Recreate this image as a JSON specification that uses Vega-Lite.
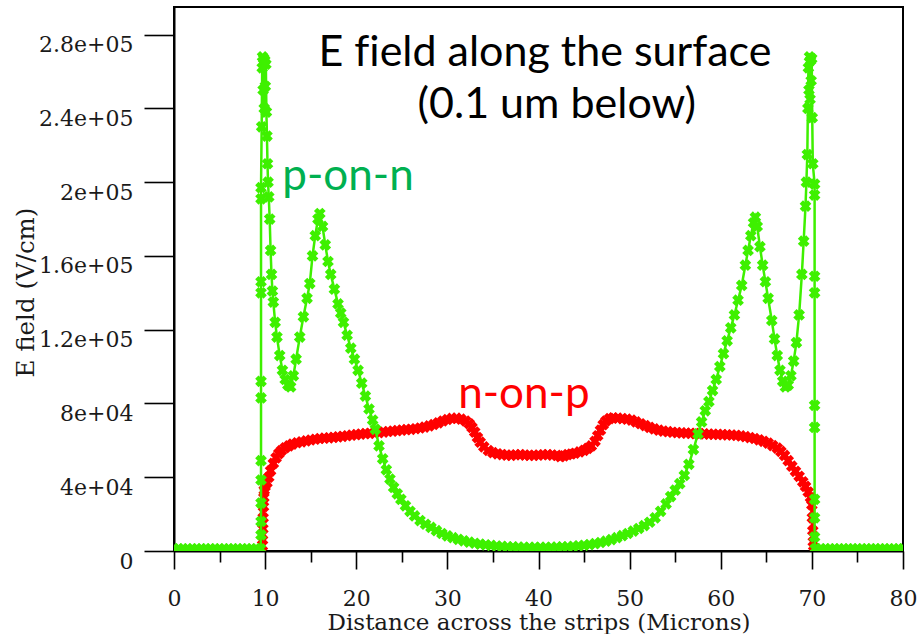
{
  "$schema": "https://vega.github.io/schema/vega-lite/v6.json",
  "width": 729,
  "height": 544,
  "autosize": {"type": "none"},
  "padding": {"left": 174, "top": 7, "right": 14, "bottom": 83},
  "background": "white",
  "config": {
    "view": {"stroke": "black", "strokeWidth": 2},
    "axis": {
      "grid": false,
      "domainColor": "black",
      "domainWidth": 2,
      "tickColor": "black",
      "tickWidth": 1.6,
      "labelFont": "DejaVu Serif",
      "labelFontSize": 22,
      "labelColor": "#1a1a1a",
      "titleFont": "DejaVu Serif",
      "titleFontSize": 23,
      "titleFontWeight": "normal",
      "titleColor": "#1a1a1a",
      "labelOverlap": false,
      "labelFlush": false,
      "labelBound": false
    }
  },
  "datasets": {
    "curves": [
      {"series":"n-on-p","i":0,"x":9.7,"E":0},
      {"series":"n-on-p","i":1,"x":9.72,"E":6000},
      {"series":"n-on-p","i":2,"x":9.75,"E":12000},
      {"series":"n-on-p","i":3,"x":9.78,"E":18000},
      {"series":"n-on-p","i":4,"x":9.82,"E":24000},
      {"series":"n-on-p","i":5,"x":9.86,"E":29000},
      {"series":"n-on-p","i":6,"x":9.9,"E":33000},
      {"series":"n-on-p","i":7,"x":10.0,"E":35000},
      {"series":"n-on-p","i":8,"x":10.2,"E":37000},
      {"series":"n-on-p","i":9,"x":10.4,"E":40000},
      {"series":"n-on-p","i":10,"x":10.6,"E":43500},
      {"series":"n-on-p","i":11,"x":10.9,"E":47500},
      {"series":"n-on-p","i":12,"x":11.2,"E":50500},
      {"series":"n-on-p","i":13,"x":11.5,"E":52800},
      {"series":"n-on-p","i":14,"x":11.8,"E":54500},
      {"series":"n-on-p","i":15,"x":12.2,"E":56000},
      {"series":"n-on-p","i":16,"x":12.6,"E":57000},
      {"series":"n-on-p","i":17,"x":13.0,"E":58000},
      {"series":"n-on-p","i":18,"x":13.5,"E":58700},
      {"series":"n-on-p","i":19,"x":14.0,"E":59200},
      {"series":"n-on-p","i":20,"x":14.5,"E":59700},
      {"series":"n-on-p","i":21,"x":15.0,"E":60200},
      {"series":"n-on-p","i":22,"x":15.5,"E":60600},
      {"series":"n-on-p","i":23,"x":16.0,"E":61000},
      {"series":"n-on-p","i":24,"x":16.5,"E":61200},
      {"series":"n-on-p","i":25,"x":17.0,"E":61400},
      {"series":"n-on-p","i":26,"x":17.5,"E":61600},
      {"series":"n-on-p","i":27,"x":18.0,"E":61900},
      {"series":"n-on-p","i":28,"x":18.5,"E":62200},
      {"series":"n-on-p","i":29,"x":19.0,"E":62500},
      {"series":"n-on-p","i":30,"x":19.5,"E":62800},
      {"series":"n-on-p","i":31,"x":20.0,"E":63100},
      {"series":"n-on-p","i":32,"x":20.5,"E":63400},
      {"series":"n-on-p","i":33,"x":21.0,"E":63600},
      {"series":"n-on-p","i":34,"x":21.5,"E":63800},
      {"series":"n-on-p","i":35,"x":22.0,"E":64000},
      {"series":"n-on-p","i":36,"x":22.5,"E":64200},
      {"series":"n-on-p","i":37,"x":23.0,"E":64500},
      {"series":"n-on-p","i":38,"x":23.5,"E":64800},
      {"series":"n-on-p","i":39,"x":24.0,"E":65000},
      {"series":"n-on-p","i":40,"x":24.5,"E":65300},
      {"series":"n-on-p","i":41,"x":25.0,"E":65500},
      {"series":"n-on-p","i":42,"x":25.5,"E":65800},
      {"series":"n-on-p","i":43,"x":26.0,"E":66000},
      {"series":"n-on-p","i":44,"x":26.5,"E":66300},
      {"series":"n-on-p","i":45,"x":27.0,"E":66700},
      {"series":"n-on-p","i":46,"x":27.5,"E":67200},
      {"series":"n-on-p","i":47,"x":28.0,"E":67800},
      {"series":"n-on-p","i":48,"x":28.5,"E":68600},
      {"series":"n-on-p","i":49,"x":29.0,"E":69500},
      {"series":"n-on-p","i":50,"x":29.5,"E":70500},
      {"series":"n-on-p","i":51,"x":30.0,"E":71300},
      {"series":"n-on-p","i":52,"x":30.5,"E":71900},
      {"series":"n-on-p","i":53,"x":31.0,"E":72000},
      {"series":"n-on-p","i":54,"x":31.5,"E":71500},
      {"series":"n-on-p","i":55,"x":32.0,"E":70500},
      {"series":"n-on-p","i":56,"x":32.4,"E":69000},
      {"series":"n-on-p","i":57,"x":32.7,"E":67000},
      {"series":"n-on-p","i":58,"x":33.0,"E":64500},
      {"series":"n-on-p","i":59,"x":33.3,"E":61500},
      {"series":"n-on-p","i":60,"x":33.6,"E":59000},
      {"series":"n-on-p","i":61,"x":34.0,"E":56500},
      {"series":"n-on-p","i":62,"x":34.5,"E":54500},
      {"series":"n-on-p","i":63,"x":35.0,"E":53300},
      {"series":"n-on-p","i":64,"x":35.5,"E":52700},
      {"series":"n-on-p","i":65,"x":36.0,"E":52300},
      {"series":"n-on-p","i":66,"x":36.5,"E":52000},
      {"series":"n-on-p","i":67,"x":37.0,"E":51800},
      {"series":"n-on-p","i":68,"x":37.5,"E":52200},
      {"series":"n-on-p","i":69,"x":38.0,"E":52300},
      {"series":"n-on-p","i":70,"x":38.5,"E":52000},
      {"series":"n-on-p","i":71,"x":39.0,"E":51900},
      {"series":"n-on-p","i":72,"x":39.5,"E":51900},
      {"series":"n-on-p","i":73,"x":40.0,"E":52000},
      {"series":"n-on-p","i":74,"x":40.5,"E":52200},
      {"series":"n-on-p","i":75,"x":41.0,"E":52300},
      {"series":"n-on-p","i":76,"x":41.5,"E":52000},
      {"series":"n-on-p","i":77,"x":42.0,"E":51800},
      {"series":"n-on-p","i":78,"x":42.4,"E":51200},
      {"series":"n-on-p","i":79,"x":42.8,"E":51600},
      {"series":"n-on-p","i":80,"x":43.2,"E":52300},
      {"series":"n-on-p","i":81,"x":43.6,"E":52600},
      {"series":"n-on-p","i":82,"x":44.0,"E":53000},
      {"series":"n-on-p","i":83,"x":44.5,"E":53700},
      {"series":"n-on-p","i":84,"x":45.0,"E":54600},
      {"series":"n-on-p","i":85,"x":45.4,"E":55600},
      {"series":"n-on-p","i":86,"x":45.8,"E":57000},
      {"series":"n-on-p","i":87,"x":46.2,"E":59500},
      {"series":"n-on-p","i":88,"x":46.5,"E":62500},
      {"series":"n-on-p","i":89,"x":46.8,"E":65500},
      {"series":"n-on-p","i":90,"x":47.1,"E":68500},
      {"series":"n-on-p","i":91,"x":47.4,"E":70500},
      {"series":"n-on-p","i":92,"x":47.8,"E":71800},
      {"series":"n-on-p","i":93,"x":48.2,"E":72200},
      {"series":"n-on-p","i":94,"x":48.7,"E":72000},
      {"series":"n-on-p","i":95,"x":49.2,"E":71800},
      {"series":"n-on-p","i":96,"x":49.7,"E":71500},
      {"series":"n-on-p","i":97,"x":50.2,"E":71000},
      {"series":"n-on-p","i":98,"x":50.7,"E":70000},
      {"series":"n-on-p","i":99,"x":51.2,"E":69000},
      {"series":"n-on-p","i":100,"x":51.7,"E":68000},
      {"series":"n-on-p","i":101,"x":52.2,"E":67000},
      {"series":"n-on-p","i":102,"x":52.7,"E":66200},
      {"series":"n-on-p","i":103,"x":53.2,"E":65500},
      {"series":"n-on-p","i":104,"x":53.7,"E":65000},
      {"series":"n-on-p","i":105,"x":54.2,"E":64700},
      {"series":"n-on-p","i":106,"x":54.7,"E":64400},
      {"series":"n-on-p","i":107,"x":55.2,"E":64200},
      {"series":"n-on-p","i":108,"x":55.7,"E":64000},
      {"series":"n-on-p","i":109,"x":56.2,"E":63900},
      {"series":"n-on-p","i":110,"x":56.7,"E":63800},
      {"series":"n-on-p","i":111,"x":57.2,"E":63700},
      {"series":"n-on-p","i":112,"x":57.7,"E":63600},
      {"series":"n-on-p","i":113,"x":58.2,"E":63500},
      {"series":"n-on-p","i":114,"x":58.7,"E":63400},
      {"series":"n-on-p","i":115,"x":59.2,"E":63300},
      {"series":"n-on-p","i":116,"x":59.7,"E":63200},
      {"series":"n-on-p","i":117,"x":60.2,"E":63100},
      {"series":"n-on-p","i":118,"x":60.7,"E":63000},
      {"series":"n-on-p","i":119,"x":61.2,"E":62900},
      {"series":"n-on-p","i":120,"x":61.7,"E":62700},
      {"series":"n-on-p","i":121,"x":62.2,"E":62400},
      {"series":"n-on-p","i":122,"x":62.7,"E":62000},
      {"series":"n-on-p","i":123,"x":63.2,"E":61500},
      {"series":"n-on-p","i":124,"x":63.7,"E":61000},
      {"series":"n-on-p","i":125,"x":64.2,"E":60300},
      {"series":"n-on-p","i":126,"x":64.7,"E":59500},
      {"series":"n-on-p","i":127,"x":65.2,"E":58500},
      {"series":"n-on-p","i":128,"x":65.7,"E":57200},
      {"series":"n-on-p","i":129,"x":66.2,"E":55800},
      {"series":"n-on-p","i":130,"x":66.6,"E":54000},
      {"series":"n-on-p","i":131,"x":67.0,"E":51800},
      {"series":"n-on-p","i":132,"x":67.4,"E":49000},
      {"series":"n-on-p","i":133,"x":67.8,"E":46000},
      {"series":"n-on-p","i":134,"x":68.2,"E":43200},
      {"series":"n-on-p","i":135,"x":68.6,"E":40500},
      {"series":"n-on-p","i":136,"x":69.0,"E":37500},
      {"series":"n-on-p","i":137,"x":69.3,"E":35000},
      {"series":"n-on-p","i":138,"x":69.6,"E":32000},
      {"series":"n-on-p","i":139,"x":69.85,"E":29000},
      {"series":"n-on-p","i":140,"x":70.0,"E":25000},
      {"series":"n-on-p","i":141,"x":70.05,"E":18000},
      {"series":"n-on-p","i":142,"x":70.1,"E":11000},
      {"series":"n-on-p","i":143,"x":70.15,"E":5000},
      {"series":"n-on-p","i":144,"x":70.2,"E":0},

      {"series":"p-on-n","i":0,"x":0,"E":1200},
      {"series":"p-on-n","i":1,"x":0.5,"E":1200},
      {"series":"p-on-n","i":2,"x":1,"E":1200},
      {"series":"p-on-n","i":3,"x":1.5,"E":1200},
      {"series":"p-on-n","i":4,"x":2,"E":1200},
      {"series":"p-on-n","i":5,"x":2.5,"E":1200},
      {"series":"p-on-n","i":6,"x":3,"E":1200},
      {"series":"p-on-n","i":7,"x":3.5,"E":1200},
      {"series":"p-on-n","i":8,"x":4,"E":1200},
      {"series":"p-on-n","i":9,"x":4.5,"E":1200},
      {"series":"p-on-n","i":10,"x":5,"E":1200},
      {"series":"p-on-n","i":11,"x":5.5,"E":1200},
      {"series":"p-on-n","i":12,"x":6,"E":1200},
      {"series":"p-on-n","i":13,"x":6.5,"E":1200},
      {"series":"p-on-n","i":14,"x":7,"E":1200},
      {"series":"p-on-n","i":15,"x":7.5,"E":1200},
      {"series":"p-on-n","i":16,"x":8,"E":1200},
      {"series":"p-on-n","i":17,"x":8.5,"E":1200},
      {"series":"p-on-n","i":18,"x":9,"E":1200},
      {"series":"p-on-n","i":19,"x":9.5,"E":1200},
      {"series":"p-on-n","i":20,"x":9.55,"E":8700},
      {"series":"p-on-n","i":21,"x":9.55,"E":16000},
      {"series":"p-on-n","i":22,"x":9.55,"E":26000},
      {"series":"p-on-n","i":23,"x":9.55,"E":38500},
      {"series":"p-on-n","i":24,"x":9.55,"E":49000},
      {"series":"p-on-n","i":25,"x":9.55,"E":83000},
      {"series":"p-on-n","i":26,"x":9.55,"E":92000},
      {"series":"p-on-n","i":27,"x":9.55,"E":140000},
      {"series":"p-on-n","i":28,"x":9.55,"E":146000},
      {"series":"p-on-n","i":29,"x":9.55,"E":191000},
      {"series":"p-on-n","i":30,"x":9.55,"E":197000},
      {"series":"p-on-n","i":31,"x":9.62,"E":230000},
      {"series":"p-on-n","i":32,"x":9.68,"E":262000},
      {"series":"p-on-n","i":33,"x":9.72,"E":268000},
      {"series":"p-on-n","i":34,"x":9.78,"E":250000},
      {"series":"p-on-n","i":35,"x":9.84,"E":267000},
      {"series":"p-on-n","i":36,"x":9.9,"E":240000},
      {"series":"p-on-n","i":37,"x":9.96,"E":266000},
      {"series":"p-on-n","i":38,"x":10.02,"E":252000},
      {"series":"p-on-n","i":39,"x":10.08,"E":264000},
      {"series":"p-on-n","i":40,"x":10.14,"E":238000},
      {"series":"p-on-n","i":41,"x":10.2,"E":225000},
      {"series":"p-on-n","i":42,"x":10.26,"E":210000},
      {"series":"p-on-n","i":43,"x":10.32,"E":200000},
      {"series":"p-on-n","i":44,"x":10.4,"E":192000},
      {"series":"p-on-n","i":45,"x":10.5,"E":180000},
      {"series":"p-on-n","i":46,"x":10.6,"E":163000},
      {"series":"p-on-n","i":47,"x":10.7,"E":150000},
      {"series":"p-on-n","i":48,"x":10.8,"E":141000},
      {"series":"p-on-n","i":49,"x":10.9,"E":135000},
      {"series":"p-on-n","i":50,"x":11.1,"E":124000},
      {"series":"p-on-n","i":51,"x":11.3,"E":116000},
      {"series":"p-on-n","i":52,"x":11.6,"E":106000},
      {"series":"p-on-n","i":53,"x":11.9,"E":98000},
      {"series":"p-on-n","i":54,"x":12.2,"E":93000},
      {"series":"p-on-n","i":55,"x":12.5,"E":90000},
      {"series":"p-on-n","i":56,"x":12.8,"E":89000},
      {"series":"p-on-n","i":57,"x":13.1,"E":95000},
      {"series":"p-on-n","i":58,"x":13.4,"E":104000},
      {"series":"p-on-n","i":59,"x":13.8,"E":116000},
      {"series":"p-on-n","i":60,"x":14.2,"E":127000},
      {"series":"p-on-n","i":61,"x":14.6,"E":137000},
      {"series":"p-on-n","i":62,"x":14.9,"E":145000},
      {"series":"p-on-n","i":63,"x":15.2,"E":160000},
      {"series":"p-on-n","i":64,"x":15.5,"E":171000},
      {"series":"p-on-n","i":65,"x":15.8,"E":180000},
      {"series":"p-on-n","i":66,"x":16.0,"E":183000},
      {"series":"p-on-n","i":67,"x":16.3,"E":176000},
      {"series":"p-on-n","i":68,"x":16.6,"E":166000},
      {"series":"p-on-n","i":69,"x":16.9,"E":157000},
      {"series":"p-on-n","i":70,"x":17.2,"E":150000},
      {"series":"p-on-n","i":71,"x":17.6,"E":142000},
      {"series":"p-on-n","i":72,"x":18.0,"E":134000},
      {"series":"p-on-n","i":73,"x":18.3,"E":129000},
      {"series":"p-on-n","i":74,"x":18.6,"E":124000},
      {"series":"p-on-n","i":75,"x":19.0,"E":117000},
      {"series":"p-on-n","i":76,"x":19.4,"E":110000},
      {"series":"p-on-n","i":77,"x":19.8,"E":104000},
      {"series":"p-on-n","i":78,"x":20.2,"E":98000},
      {"series":"p-on-n","i":79,"x":20.6,"E":91000},
      {"series":"p-on-n","i":80,"x":21.0,"E":84000},
      {"series":"p-on-n","i":81,"x":21.4,"E":77000},
      {"series":"p-on-n","i":82,"x":21.8,"E":71000},
      {"series":"p-on-n","i":83,"x":22.1,"E":66000},
      {"series":"p-on-n","i":84,"x":22.5,"E":57000},
      {"series":"p-on-n","i":85,"x":22.9,"E":50000},
      {"series":"p-on-n","i":86,"x":23.3,"E":44000},
      {"series":"p-on-n","i":87,"x":23.7,"E":39000},
      {"series":"p-on-n","i":88,"x":24.1,"E":34500},
      {"series":"p-on-n","i":89,"x":24.5,"E":31000},
      {"series":"p-on-n","i":90,"x":24.9,"E":28000},
      {"series":"p-on-n","i":91,"x":25.4,"E":24500},
      {"series":"p-on-n","i":92,"x":25.9,"E":21500},
      {"series":"p-on-n","i":93,"x":26.4,"E":19000},
      {"series":"p-on-n","i":94,"x":27.0,"E":16500},
      {"series":"p-on-n","i":95,"x":27.6,"E":14500},
      {"series":"p-on-n","i":96,"x":28.2,"E":12800},
      {"series":"p-on-n","i":97,"x":28.8,"E":11000},
      {"series":"p-on-n","i":98,"x":29.4,"E":9500},
      {"series":"p-on-n","i":99,"x":30.0,"E":8200},
      {"series":"p-on-n","i":100,"x":30.6,"E":7200},
      {"series":"p-on-n","i":101,"x":31.2,"E":6300},
      {"series":"p-on-n","i":102,"x":31.8,"E":5500},
      {"series":"p-on-n","i":103,"x":32.4,"E":4800},
      {"series":"p-on-n","i":104,"x":33.0,"E":4200},
      {"series":"p-on-n","i":105,"x":33.6,"E":3700},
      {"series":"p-on-n","i":106,"x":34.2,"E":3300},
      {"series":"p-on-n","i":107,"x":34.8,"E":3000},
      {"series":"p-on-n","i":108,"x":35.4,"E":2700},
      {"series":"p-on-n","i":109,"x":36.0,"E":2500},
      {"series":"p-on-n","i":110,"x":36.6,"E":2300},
      {"series":"p-on-n","i":111,"x":37.2,"E":2200},
      {"series":"p-on-n","i":112,"x":37.8,"E":2100},
      {"series":"p-on-n","i":113,"x":38.4,"E":2000},
      {"series":"p-on-n","i":114,"x":39.0,"E":2000},
      {"series":"p-on-n","i":115,"x":39.6,"E":2000},
      {"series":"p-on-n","i":116,"x":40.2,"E":2000},
      {"series":"p-on-n","i":117,"x":40.8,"E":2000},
      {"series":"p-on-n","i":118,"x":41.4,"E":2000},
      {"series":"p-on-n","i":119,"x":42.0,"E":2100},
      {"series":"p-on-n","i":120,"x":42.6,"E":2200},
      {"series":"p-on-n","i":121,"x":43.2,"E":2300},
      {"series":"p-on-n","i":122,"x":43.8,"E":2500},
      {"series":"p-on-n","i":123,"x":44.4,"E":2800},
      {"series":"p-on-n","i":124,"x":45.0,"E":3100},
      {"series":"p-on-n","i":125,"x":45.6,"E":3500},
      {"series":"p-on-n","i":126,"x":46.2,"E":4000},
      {"series":"p-on-n","i":127,"x":46.8,"E":4600},
      {"series":"p-on-n","i":128,"x":47.4,"E":5300},
      {"series":"p-on-n","i":129,"x":48.0,"E":6200},
      {"series":"p-on-n","i":130,"x":48.6,"E":7200},
      {"series":"p-on-n","i":131,"x":49.2,"E":8300},
      {"series":"p-on-n","i":132,"x":49.8,"E":9500},
      {"series":"p-on-n","i":133,"x":50.4,"E":10800},
      {"series":"p-on-n","i":134,"x":51.0,"E":12200},
      {"series":"p-on-n","i":135,"x":51.6,"E":13800},
      {"series":"p-on-n","i":136,"x":52.2,"E":15600},
      {"series":"p-on-n","i":137,"x":52.8,"E":18000},
      {"series":"p-on-n","i":138,"x":53.4,"E":21500},
      {"series":"p-on-n","i":139,"x":54.0,"E":25500},
      {"series":"p-on-n","i":140,"x":54.5,"E":29500},
      {"series":"p-on-n","i":141,"x":55.0,"E":33000},
      {"series":"p-on-n","i":142,"x":55.5,"E":36500},
      {"series":"p-on-n","i":143,"x":56.0,"E":41000},
      {"series":"p-on-n","i":144,"x":56.5,"E":47000},
      {"series":"p-on-n","i":145,"x":57.0,"E":55000},
      {"series":"p-on-n","i":146,"x":57.5,"E":63500},
      {"series":"p-on-n","i":147,"x":57.9,"E":70000},
      {"series":"p-on-n","i":148,"x":58.3,"E":76000},
      {"series":"p-on-n","i":149,"x":58.7,"E":81000},
      {"series":"p-on-n","i":150,"x":59.1,"E":87000},
      {"series":"p-on-n","i":151,"x":59.5,"E":93000},
      {"series":"p-on-n","i":152,"x":59.9,"E":100000},
      {"series":"p-on-n","i":153,"x":60.3,"E":107000},
      {"series":"p-on-n","i":154,"x":60.7,"E":114000},
      {"series":"p-on-n","i":155,"x":61.1,"E":121000},
      {"series":"p-on-n","i":156,"x":61.5,"E":128000},
      {"series":"p-on-n","i":157,"x":61.9,"E":136000},
      {"series":"p-on-n","i":158,"x":62.3,"E":144000},
      {"series":"p-on-n","i":159,"x":62.7,"E":155000},
      {"series":"p-on-n","i":160,"x":63.0,"E":163000},
      {"series":"p-on-n","i":161,"x":63.3,"E":171000},
      {"series":"p-on-n","i":162,"x":63.6,"E":178000},
      {"series":"p-on-n","i":163,"x":63.8,"E":181000},
      {"series":"p-on-n","i":164,"x":64.0,"E":176000},
      {"series":"p-on-n","i":165,"x":64.3,"E":165000},
      {"series":"p-on-n","i":166,"x":64.6,"E":155000},
      {"series":"p-on-n","i":167,"x":64.9,"E":146000},
      {"series":"p-on-n","i":168,"x":65.2,"E":137000},
      {"series":"p-on-n","i":169,"x":65.6,"E":125000},
      {"series":"p-on-n","i":170,"x":65.9,"E":115000},
      {"series":"p-on-n","i":171,"x":66.2,"E":106000},
      {"series":"p-on-n","i":172,"x":66.5,"E":98000},
      {"series":"p-on-n","i":173,"x":66.8,"E":92000},
      {"series":"p-on-n","i":174,"x":67.1,"E":89000},
      {"series":"p-on-n","i":175,"x":67.4,"E":90000},
      {"series":"p-on-n","i":176,"x":67.7,"E":95000},
      {"series":"p-on-n","i":177,"x":68.0,"E":103000},
      {"series":"p-on-n","i":178,"x":68.3,"E":113000},
      {"series":"p-on-n","i":179,"x":68.6,"E":128000},
      {"series":"p-on-n","i":180,"x":68.9,"E":150000},
      {"series":"p-on-n","i":181,"x":69.1,"E":168000},
      {"series":"p-on-n","i":182,"x":69.3,"E":187000},
      {"series":"p-on-n","i":183,"x":69.4,"E":200000},
      {"series":"p-on-n","i":184,"x":69.5,"E":215000},
      {"series":"p-on-n","i":185,"x":69.56,"E":240000},
      {"series":"p-on-n","i":186,"x":69.62,"E":262000},
      {"series":"p-on-n","i":187,"x":69.68,"E":250000},
      {"series":"p-on-n","i":188,"x":69.74,"E":268000},
      {"series":"p-on-n","i":189,"x":69.8,"E":245000},
      {"series":"p-on-n","i":190,"x":69.86,"E":266000},
      {"series":"p-on-n","i":191,"x":69.92,"E":255000},
      {"series":"p-on-n","i":192,"x":69.98,"E":267000},
      {"series":"p-on-n","i":193,"x":70.04,"E":235000},
      {"series":"p-on-n","i":194,"x":70.1,"E":210000},
      {"series":"p-on-n","i":195,"x":70.3,"E":199000},
      {"series":"p-on-n","i":196,"x":70.3,"E":193000},
      {"series":"p-on-n","i":197,"x":70.3,"E":149000},
      {"series":"p-on-n","i":198,"x":70.3,"E":140000},
      {"series":"p-on-n","i":199,"x":70.3,"E":79000},
      {"series":"p-on-n","i":200,"x":70.3,"E":67000},
      {"series":"p-on-n","i":201,"x":70.3,"E":28000},
      {"series":"p-on-n","i":202,"x":70.3,"E":18000},
      {"series":"p-on-n","i":203,"x":70.3,"E":7600},
      {"series":"p-on-n","i":204,"x":70.35,"E":1200},
      {"series":"p-on-n","i":205,"x":70.5,"E":1200},
      {"series":"p-on-n","i":206,"x":71,"E":1200},
      {"series":"p-on-n","i":207,"x":71.5,"E":1200},
      {"series":"p-on-n","i":208,"x":72,"E":1200},
      {"series":"p-on-n","i":209,"x":72.5,"E":1200},
      {"series":"p-on-n","i":210,"x":73,"E":1200},
      {"series":"p-on-n","i":211,"x":73.5,"E":1200},
      {"series":"p-on-n","i":212,"x":74,"E":1200},
      {"series":"p-on-n","i":213,"x":74.5,"E":1200},
      {"series":"p-on-n","i":214,"x":75,"E":1200},
      {"series":"p-on-n","i":215,"x":75.5,"E":1200},
      {"series":"p-on-n","i":216,"x":76,"E":1200},
      {"series":"p-on-n","i":217,"x":76.5,"E":1200},
      {"series":"p-on-n","i":218,"x":77,"E":1200},
      {"series":"p-on-n","i":219,"x":77.5,"E":1200},
      {"series":"p-on-n","i":220,"x":78,"E":1200},
      {"series":"p-on-n","i":221,"x":78.5,"E":1200},
      {"series":"p-on-n","i":222,"x":79,"E":1200},
      {"series":"p-on-n","i":223,"x":79.5,"E":1200},
      {"series":"p-on-n","i":224,"x":80,"E":1200}
    ]
  },
  "layer": [
    {
      "data": {"name": "curves"},
      "transform": [{"filter": "datum.series === 'n-on-p'"}],
      "mark": {"type": "line", "color": "#ff0000", "strokeWidth": 4, "clip": true},
      "encoding": {
        "x": {
          "field": "x", "type": "quantitative",
          "scale": {"domain": [0, 80], "nice": false, "zero": false},
          "axis": {
            "title": "Distance across the strips (Microns)",
            "values": [0,2.5,5,7.5,10,12.5,15,17.5,20,22.5,25,27.5,30,32.5,35,37.5,40,42.5,45,47.5,50,52.5,55,57.5,60,62.5,65,67.5,70,72.5,75,77.5,80],
            "labelExpr": "datum.value % 10 === 0 ? datum.label : ''",
            "tickSize": {"condition": {"test": "datum.value % 10 === 0", "value": 18}, "value": 11},
            "labelPadding": 19,
            "labelBaseline": "top",
            "titleY": 60,
            "titleBaseline": "top"
          }
        },
        "y": {
          "field": "E", "type": "quantitative",
          "scale": {"domain": [0, 295000], "nice": false, "zero": true},
          "axis": {
            "title": "E field (V/cm)",
            "titleFontSize": 24.5,
            "values": [0,10000,20000,30000,40000,50000,60000,70000,80000,90000,100000,110000,120000,130000,140000,150000,160000,170000,180000,190000,200000,210000,220000,230000,240000,250000,260000,270000,280000,290000],
            "labelExpr": "datum.value % 40000 !== 0 ? '' : datum.value === 0 ? '0' : datum.value < 100000 ? format(datum.value / 10000, '~g') + 'e+04' : format(datum.value / 100000, '~g') + 'e+05'",
            "tickSize": {"condition": {"test": "datum.value % 40000 === 0", "value": 30}, "value": 15},
            "labelPadding": 11,
            "labelBaseline": "top",
            "labelOffset": 0,
            "titleX": -141,
            "titleY": 285,
            "titleAngle": 270,
            "titleBaseline": "alphabetic",
            "titleAlign": "center"
          }
        },
        "order": {"field": "i", "type": "quantitative"}
      }
    },
    {
      "data": {"name": "curves"},
      "transform": [{"filter": "datum.series === 'n-on-p'"}],
      "mark": {"type": "point", "shape": "cross", "angle": 45, "filled": true, "size": 140, "color": "#ff0000", "opacity": 1, "clip": true},
      "encoding": {
        "x": {"field": "x", "type": "quantitative"},
        "y": {"field": "E", "type": "quantitative"}
      }
    },
    {
      "data": {"name": "curves"},
      "transform": [{"filter": "datum.series === 'p-on-n'"}],
      "mark": {"type": "line", "color": "#3ef000", "strokeWidth": 2.5, "clip": true},
      "encoding": {
        "x": {"field": "x", "type": "quantitative"},
        "y": {"field": "E", "type": "quantitative"},
        "order": {"field": "i", "type": "quantitative"}
      }
    },
    {
      "data": {"name": "curves"},
      "transform": [{"filter": "datum.series === 'p-on-n'"}],
      "mark": {"type": "point", "shape": "cross", "angle": 45, "filled": true, "size": 140, "color": "#3ef000", "opacity": 1, "clip": true},
      "encoding": {
        "x": {"field": "x", "type": "quantitative"},
        "y": {"field": "E", "type": "quantitative"}
      }
    },
    {
      "data": {"values": [{"label": "E f\u200cield along the surface"}]},
      "mark": {"type": "text", "font": "Lato", "fontSize": 43, "color": "black", "align": "center", "baseline": "alphabetic"},
      "encoding": {
        "x": {"datum": 40.7, "type": "quantitative"},
        "y": {"datum": 263200, "type": "quantitative"},
        "text": {"field": "label"}
      }
    },
    {
      "data": {"values": [{"label": "(0.1 um below)"}]},
      "mark": {"type": "text", "font": "Lato", "fontSize": 43, "color": "black", "align": "center", "baseline": "alphabetic"},
      "encoding": {
        "x": {"datum": 42.0, "type": "quantitative"},
        "y": {"datum": 235000, "type": "quantitative"},
        "text": {"field": "label"}
      }
    },
    {
      "data": {"values": [{"label": "p-on-n"}]},
      "mark": {"type": "text", "font": "Lato", "fontSize": 44, "color": "#00b050", "align": "center", "baseline": "alphabetic"},
      "encoding": {
        "x": {"datum": 19.1, "type": "quantitative"},
        "y": {"datum": 195800, "type": "quantitative"},
        "text": {"field": "label"}
      }
    },
    {
      "data": {"values": [{"label": "n-on-p"}]},
      "mark": {"type": "text", "font": "Lato", "fontSize": 44, "color": "#ff0000", "align": "center", "baseline": "alphabetic"},
      "encoding": {
        "x": {"datum": 38.4, "type": "quantitative"},
        "y": {"datum": 77500, "type": "quantitative"},
        "text": {"field": "label"}
      }
    }
  ]
}
